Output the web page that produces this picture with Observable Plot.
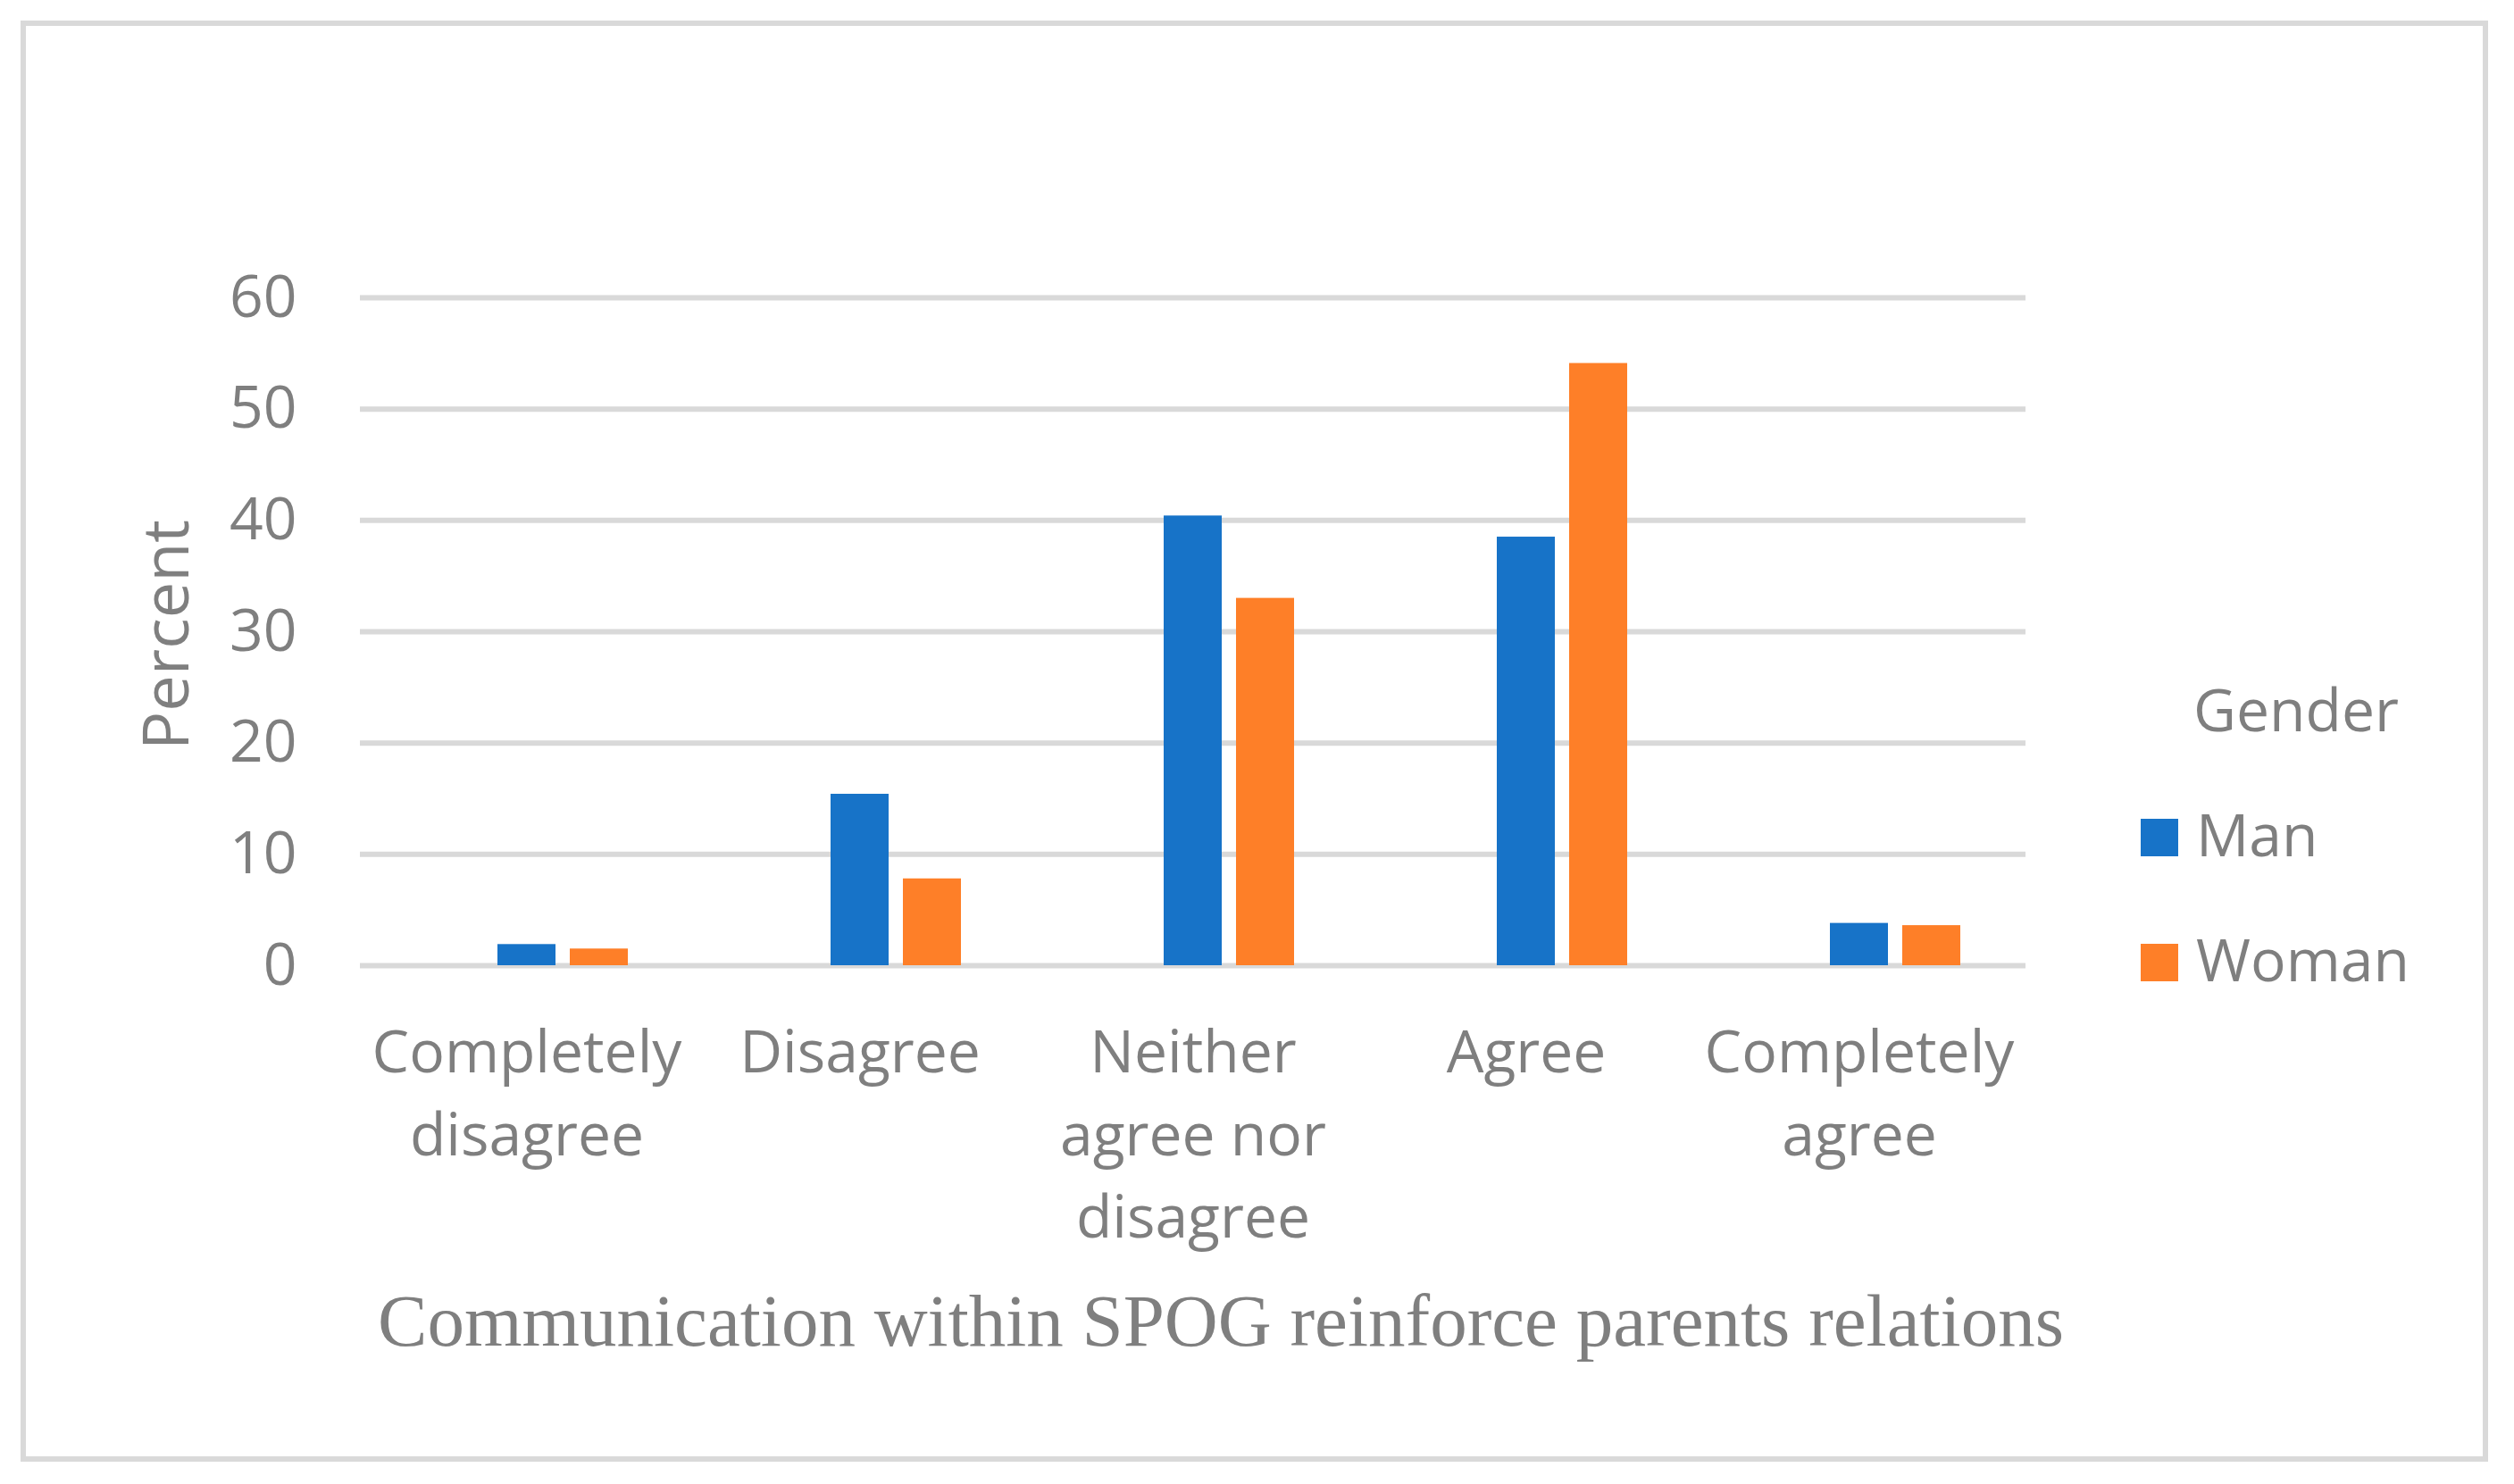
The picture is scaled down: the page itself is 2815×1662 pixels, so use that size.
<!DOCTYPE html>
<html>
<head>
<meta charset="utf-8">
<script src="https://cdn.jsdelivr.net/npm/d3@7"></script>
<script src="https://cdn.jsdelivr.net/npm/@observablehq/plot@0.6"></script>
<style>
  html, body { margin: 0; padding: 0; background: #ffffff; }
  #wrap { position: relative; width: 2815px; height: 1662px; background: #ffffff; overflow: hidden; }
  #frame { position: absolute; left: 23px; top: 23px; width: 2751px; height: 1602px; border: 6px solid #d9d9d9; }
  #chart { position: absolute; left: 0; top: 0; }
  .txt { position: absolute; color: #7f7f7f; font-family: "Open Sans", sans-serif; line-height: 1; white-space: nowrap; }
  #ytitle { font-size: 72px; left: 183px; top: 711px; transform: translate(-50%, -50%) rotate(-90deg); }
  #xtitle { font-family: "Liberation Serif", serif; font-size: 83px; left: 1367px; top: 1438px; transform: translateX(-50%); }
  #legend-title { font-size: 66px; left: 2456px; top: 760px; }
  .sw { position: absolute; width: 42px; height: 42px; }
</style>
</head>
<body>
<div id="wrap">
  <div id="frame"></div>
  <div id="chart"></div>
  <div class="txt" id="ytitle">Percent</div>
  <div class="txt" id="xtitle">Communication within SPOG reinforce parents relations</div>
  <div class="txt" id="legend-title">Gender</div>
  <div id="legend"></div>
</div>
<script>
// ---- data ----
const categories = ["Completely disagree", "Disagree", "Neither agree nor disagree", "Agree", "Completely agree"];
const categoryLabels = ["Completely\ndisagree", "Disagree", "Neither\nagree nor\ndisagree", "Agree", "Completely\nagree"];
const genders = ["Man", "Woman"];
const manValues = [1.9, 15.4, 40.4, 38.5, 3.8];
const womanValues = [1.5, 7.8, 33.0, 54.1, 3.6];
const colors = ["#1773c8", "#fe7f28"];
const yTicks = [0, 10, 20, 30, 40, 50, 60];

const series = {Man: manValues, Woman: womanValues};
const data = genders.flatMap(g => categories.map((c, i) => ({category: c, gender: g, value: series[g][i]})));

const chart = Plot.plot({
  width: 2815,
  height: 1662,
  marginTop: 333,
  marginBottom: 581,
  marginLeft: 402,
  marginRight: 546,
  style: {fontFamily: "'Open Sans', sans-serif", color: "#7f7f7f", background: "transparent"},
  fx: {domain: categories, padding: 0},
  x: {domain: ["_", ...genders], paddingInner: 0.195, paddingOuter: 0.874, axis: null},
  y: {domain: [0, 60], axis: null},
  color: {domain: genders, range: colors},
  marks: [
    Plot.gridY(yTicks, {stroke: "#d9d9d9", strokeWidth: 6, strokeOpacity: 1}),
    Plot.barY(data, {fx: "category", x: "gender", y: "value", fill: "gender"}),
    Plot.axisY(yTicks, {anchor: "left", tickSize: 0, tickPadding: 71, fontSize: 66, label: null}),
    Plot.axisFx({anchor: "bottom", tickSize: 0, tickPadding: 54, fontSize: 66, lineHeight: 1.4,
                 tickFormat: d => categoryLabels[categories.indexOf(d)], label: null})
  ]
});
document.getElementById("chart").appendChild(chart);

// legend
const legend = document.getElementById("legend");
genders.forEach((g, i) => {
  const top = 917 + i * 140;
  const sw = document.createElement("div");
  sw.className = "sw";
  sw.style.left = "2397px";
  sw.style.top = top + "px";
  sw.style.background = colors[i];
  legend.appendChild(sw);
  const t = document.createElement("div");
  t.className = "txt";
  t.style.fontSize = "66px";
  t.style.left = "2459px";
  t.style.top = (top + 42 - 59) + "px";
  t.textContent = g;
  legend.appendChild(t);
});
</script>
</body>
</html>
